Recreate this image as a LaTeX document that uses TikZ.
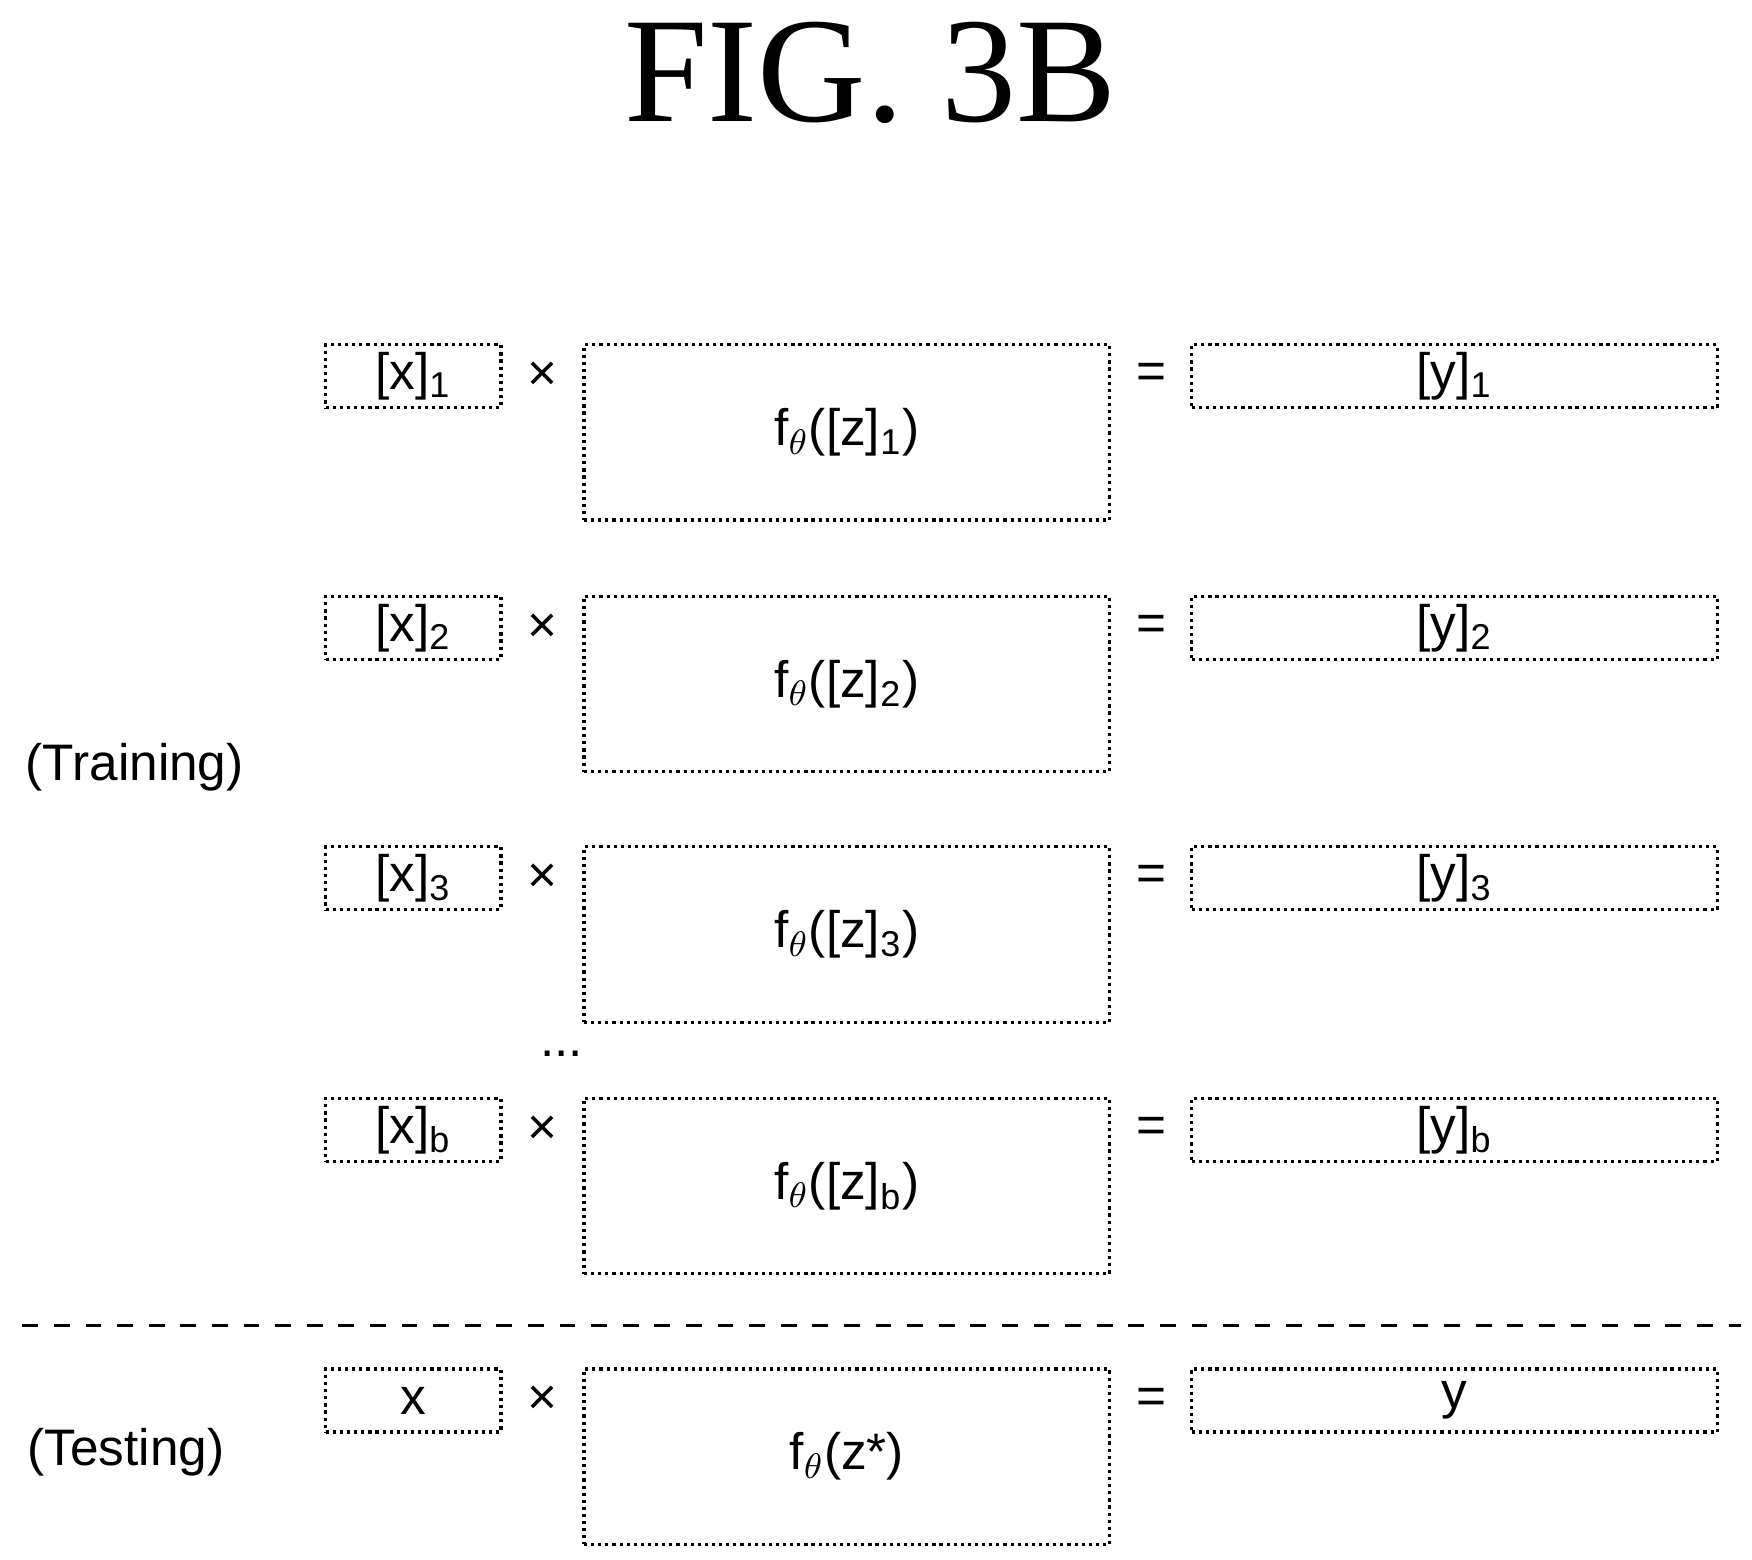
\documentclass[tikz,border=0pt]{standalone}
\usepackage{fontspec}
\setmainfont{Liberation Serif}
\setsansfont{Liberation Sans}
\begin{document}
\begin{tikzpicture}[x=0.01cm,y=-0.01cm,font=\sffamily\fontsize{13}{15}\selectfont,
    box/.style={draw, densely dotted, thick, inner sep=0pt, outer sep=0pt, anchor=north west},
    small/.style={box, minimum width=1.56cm, minimum height=0.56cm},
    wide/.style={box, minimum width=4.68cm, minimum height=0.56cm},
    big/.style={box, minimum width=4.68cm, minimum height=1.56cm},
    op/.style={inner sep=0pt}]
    % Bounding box
    \useasboundingbox (0,0) rectangle (1560,1389);

    % Title
    \node[font=\rmfamily\fontsize{38}{40}\selectfont] (title) at (775,65) {FIG.\ 3B};

    % Training rows
    \foreach \y/\i in {307/1, 531/2, 754/3, 978/b} {
        \node[small] (x\i) at (290,\y) {};
        \node at (x\i.center) {[x]\textsubscript{\i}};
        \node[op] (times\i) at (483,\y+28) {×};
        \node[big] (f\i) at (520,\y) {};
        \node at (f\i.center) {f\textsubscript{$\theta$}([z]\textsubscript{\i})};
        \node[op] (eq\i) at (1025,\y+28) {=};
        \node[wide] (y\i) at (1061,\y) {};
        \node at (y\i.center) {[y]\textsubscript{\i}};
    }
    \node (dots) at (500,938) {...};
    \node (train) at (120,683) {(Training)};

    % Separator
    \draw[thick, dash pattern=on 4pt off 4pt] (20,1180) -- (1550,1180);

    % Testing row
    \node[small] (xt) at (290,1219) {};
    \node at (xt.center) {x};
    \node[op] (timest) at (483,1247) {×};
    \node[big] (ft) at (520,1219) {};
    \node at (ft.center) {f\textsubscript{$\theta$}(z*)};
    \node[op] (eqt) at (1025,1247) {=};
    \node[wide] (yt) at (1061,1219) {};
    \node at (yt.center) {y};
    \node (test) at (112,1293) {(Testing)};
\end{tikzpicture}
\end{document}
